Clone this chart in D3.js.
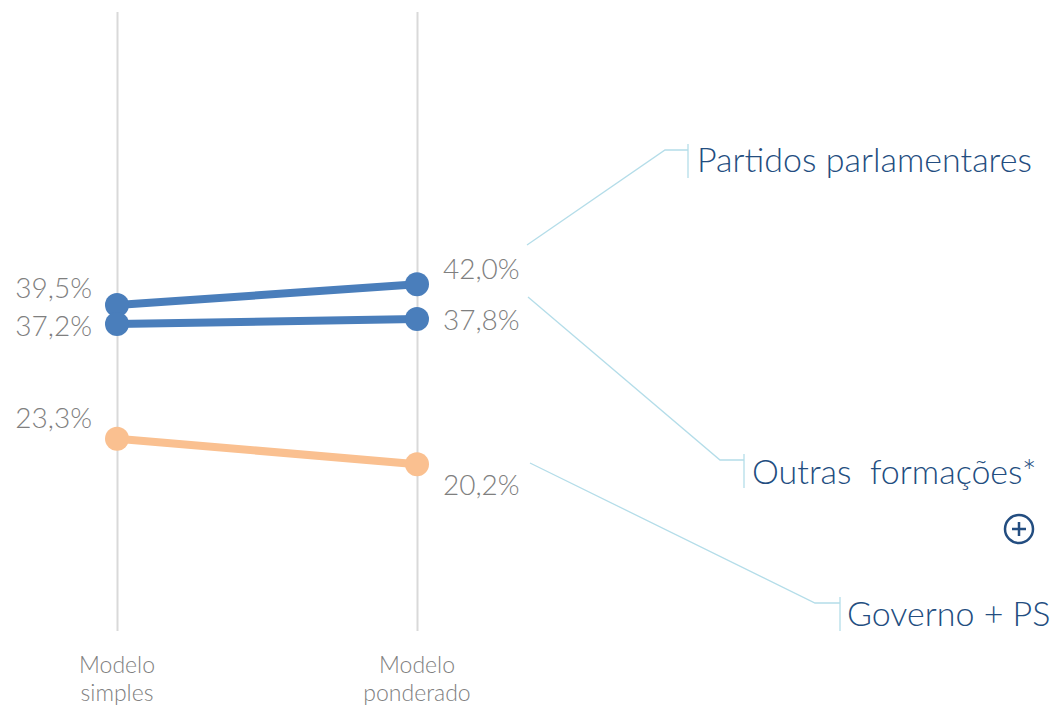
<!DOCTYPE html>
<html>
<head>
<meta charset="utf-8">
<script src="https://cdn.jsdelivr.net/npm/d3@7"></script>
<style>
  body { margin: 0; background: #fff; }
  text { font-family: Lato, "Open Sans", sans-serif; font-weight: 300; }
</style>
</head>
<body>
<div id="chart-area"></div>
<script>
// data
const models = ["Modelo simples", "Modelo ponderado"]
const seriesNames = ["Partidos parlamentares", "Outras  formações*", "Governo + PS"]
const partidos = [39.5, 42.0]
const outras = [37.2, 37.8]
const governo = [23.3, 20.2]

const WIDTH = 1052
const HEIGHT = 709
const TOP = 12
const BOTTOM = 631

const svg = d3.select("#chart-area").append("svg")
  .attr("width", WIDTH)
  .attr("height", HEIGHT)

const x = d3.scalePoint()
  .domain(models)
  .range([117, 417])

const y = d3.scaleLinear()
  .domain([0, 75])
  .range([BOTTOM, TOP])

// vertical grid lines
const xGrid = d3.axisBottom(x).tickSize(-(BOTTOM - TOP)).tickFormat('')
svg.append("g")
  .attr("class", "x axis-grid")
  .attr("transform", `translate(0, ${BOTTOM})`)
  .call(xGrid)
  .call(g => g.select(".domain").remove())
  .selectAll("line")
    .attr("stroke", "#d9d9d9")
    .attr("stroke-width", 2)

// category labels (two lines)
svg.selectAll(".cat")
  .data(models)
  .enter().append("text")
    .attr("class", "cat")
    .attr("x", d => x(d))
    .attr("y", 673)
    .attr("text-anchor", "middle")
    .attr("fill", "#808080")
    .style("font-size", "23px")
    .each(function (d) {
      const words = d.split(" ")
      d3.select(this).append("tspan").attr("x", x(d)).text(words[0])
      d3.select(this).append("tspan").attr("x", x(d)).attr("dy", 28).text(words[1])
    })

const series = [
  { name: seriesNames[0], values: partidos, color: "#4a7ebb" },
  { name: seriesNames[1], values: outras, color: "#4a7ebb" },
  { name: seriesNames[2], values: governo, color: "#fac090" }
]

const line = d3.line()
  .x((d, i) => x(models[i]))
  .y(d => y(d))

series.forEach(s => {
  svg.append("path")
    .datum(s.values)
    .attr("fill", "none")
    .attr("stroke", s.color)
    .attr("stroke-width", 8)
    .attr("d", line)
})

series.forEach(s => {
  svg.selectAll(null)
    .data(s.values)
    .enter().append("circle")
      .attr("cx", (d, i) => x(models[i]))
      .attr("cy", d => y(d))
      .attr("r", 12)
      .attr("fill", s.color)
})

// value labels: vertical nudges to avoid overlap
const nudge = [[-7, -5], [12, 11], [-11, 31]]
const fmt = d => d.toFixed(1).replace(".", ",") + "%"

series.forEach((s, si) => {
  s.values.forEach((v, i) => {
    svg.append("text")
      .attr("x", i === 0 ? x(models[i]) - 25 : x(models[i]) + 26)
      .attr("y", y(v) + nudge[si][i])
      .attr("text-anchor", i === 0 ? "end" : "start")
      .attr("fill", "#7f7f7f")
      .style("font-size", "28px")
      .text(fmt(v))
  })
})

// callouts
const callouts = [
  { from: [527, 245], elbow: [665, 150], bar: 688, text: 697, base: 172 },
  { from: [528, 297], elbow: [720, 460], bar: 744, text: 752, base: 484 },
  { from: [530, 463], elbow: [815, 603], bar: 840, text: 847, base: 626 }
]

callouts.forEach((c, i) => {
  svg.append("polyline")
    .attr("points", [c.from, c.elbow, [c.bar, c.elbow[1]]].map(p => p.join(",")).join(" "))
    .attr("fill", "none")
    .attr("stroke", "#b4dde9")
    .attr("stroke-width", 1.3)
  svg.append("line")
    .attr("x1", c.bar).attr("x2", c.bar)
    .attr("y1", c.elbow[1] - 6).attr("y2", c.elbow[1] + 28)
    .attr("stroke", "#b4dde9")
    .attr("stroke-width", 1.3)
  svg.append("text")
    .attr("x", c.text)
    .attr("y", c.base)
    .attr("fill", "#234d80")
    .style("font-size", "34px")
    .attr("xml:space", "preserve")
    .text(series[i].name)
})

// plus icon
const plus = svg.append("g").attr("transform", "translate(1019, 529)")
plus.append("circle").attr("r", 14).attr("fill", "none").attr("stroke", "#234d80").attr("stroke-width", 2.5)
plus.append("path").attr("d", "M-7,0H7M0,-7V7").attr("stroke", "#234d80").attr("stroke-width", 2.5)
</script>
</body>
</html>
